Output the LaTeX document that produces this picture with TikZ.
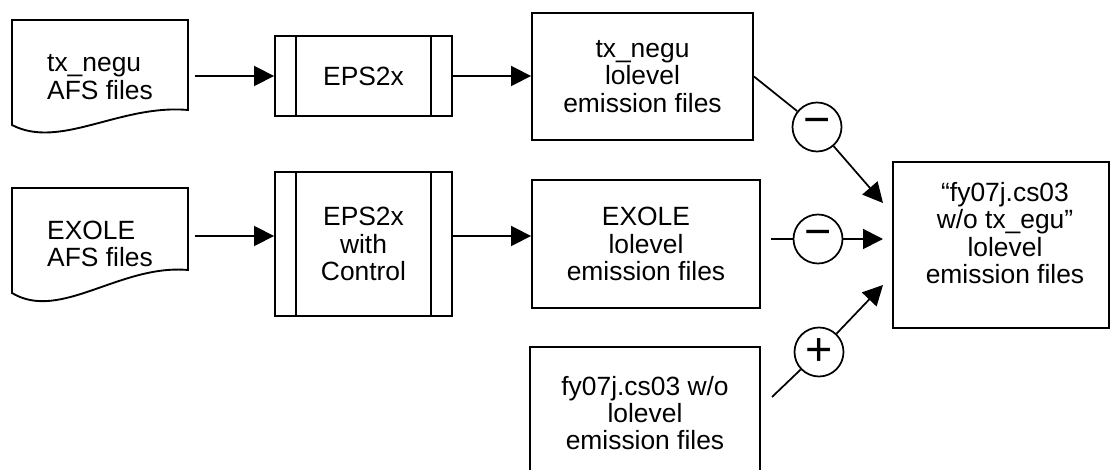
\documentclass[tikz,border=0pt]{standalone}
\usepackage{fontspec}
\setmainfont{Liberation Sans}
\usetikzlibrary{arrows.meta}
\begin{document}
\begin{tikzpicture}[x=0.75pt,y=-0.75pt,
  every node/.style={font=\fontsize{19.8}{20.4}\selectfont},
  box/.style={draw, line width=1.4pt, align=center, inner sep=0pt},
  txt/.style={align=center, inner sep=0pt},
  doctxt/.style={align=left, inner sep=0pt, minimum width=132pt},
  shape line/.style={line width=1.4pt, line join=miter},
  arr/.style={line width=1.3pt, -{Triangle[length=15pt,width=15pt]}},
  ln/.style={line width=1.3pt},
  op/.style={circle, draw, line width=1.3pt, minimum size=36.75pt, inner sep=0pt, font=\fontsize{35}{35}\selectfont}]
\useasboundingbox (0,0) rectangle (1111,470);
\clip (0,0) rectangle (1111,470);

% document shapes
\draw[shape line] (12,20) -- (188,20) -- (188,110) .. controls (120,104) and (60,150) .. (12,125) -- cycle;
\node[doctxt] (doc1) at (100,77) {tx\_negu\\AFS files};
\draw[shape line] (12,188) -- (188,188) -- (188,270) .. controls (120,264) and (60,322) .. (12,293) -- cycle;
\node[doctxt] (doc2) at (100,244) {EXOLE\\AFS files};

% process boxes
\node[box, minimum width=132.75pt, minimum height=60pt] (eps1) at (363.5,76) {EPS2x};
\draw[shape line] ([xshift=16.5pt]eps1.north west) -- ([xshift=16.5pt]eps1.south west);
\draw[shape line] ([xshift=-16.5pt]eps1.north east) -- ([xshift=-16.5pt]eps1.south east);
\node[box, minimum width=132.75pt, minimum height=108pt] (eps2) at (363.5,244) {EPS2x\\with\\Control};
\draw[shape line] ([xshift=16.5pt]eps2.north west) -- ([xshift=16.5pt]eps2.south west);
\draw[shape line] ([xshift=-16.5pt]eps2.north east) -- ([xshift=-16.5pt]eps2.south east);

% data boxes
\node[box, minimum width=165.75pt, minimum height=95.25pt] (lo1) at (642.5,76.5) {tx\_negu\\lolevel\\emission files};
\node[box, minimum width=171pt, minimum height=96pt] (lo2) at (646,244) {EXOLE\\lolevel\\emission files};
\node[box, minimum width=172.5pt, minimum height=99pt] (lo3) at (645,413) {fy07j.cs03 w/o\\lolevel\\emission files};
\node[box, minimum width=162pt, minimum height=124.5pt] (out) at (1001,245) {};
\node[txt] (outtext) at (1005,233) {“fy07j.cs03\\w/o tx\_egu”\\lolevel\\emission files};

% operators
\node[op] (c1) at (817,127) {−};
\node[op] (c2) at (818,239) {−};
\node[op] (c3) at (819,352) {+};

\coordinate (s2) at (771,239);
\coordinate (s3) at (772,397);
\coordinate (t1) at (883,203);
\coordinate (t2) at (883,239);
\coordinate (t3) at (883,285);

% connectors
\draw[arr] ([xshift=5pt,yshift=0.75pt]doc1.east) -- ([yshift=0.75pt]doc1.east -| eps1.west);
\draw[arr] (eps1.east) -- (eps1.east -| lo1.west);
\draw[arr] ([xshift=5pt,yshift=6pt]doc2.east) -- ([yshift=6pt]doc2.east -| eps2.west);
\draw[arr] ([yshift=6pt]eps2.east) -- ([yshift=6pt]eps2.east -| lo2.west);
\draw[ln] (lo1.east) -- (c1);
\draw[arr] (c1) -- (t1);
\draw[ln] (s2) -- (c2);
\draw[arr] (c2) -- (t2);
\draw[ln] (s3) -- (c3);
\draw[arr] (c3) -- (t3);
\end{tikzpicture}
\end{document}
